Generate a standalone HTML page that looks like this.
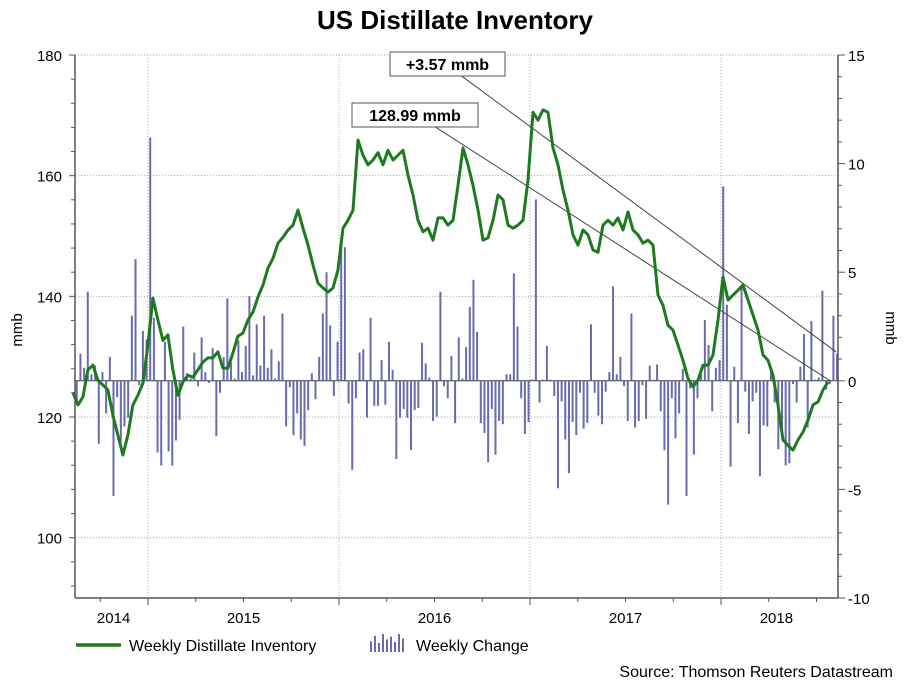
<!DOCTYPE html>
<html><head><meta charset="utf-8"><style>
body{margin:0;background:#fff;}
svg{display:block;font-family:"Liberation Sans",sans-serif;}
</style></head><body>
<svg id="chart" width="909" height="682" viewBox="0 0 909 682" xmlns="http://www.w3.org/2000/svg">
<text x="455" y="29" text-anchor="middle" font-size="26" font-weight="bold" fill="#000">US Distillate Inventory</text>
<g id="grid"></g>
<g id="bars"></g>
<g id="trend"></g>
<g id="line"></g>
<g id="axes"></g>
<text x="22" y="330" text-anchor="middle" font-size="15" transform="rotate(-90 22 330)">mmb</text>
<text x="886" y="328" text-anchor="middle" font-size="15" transform="rotate(90 886 328)">mmb</text>
<g>
<g>
<line x1="76" y1="645" x2="121" y2="645" stroke="#1e7a1e" stroke-width="3.5"/>
<text x="129" y="651" font-size="16">Weekly Distillate Inventory</text></g>
<g id="legbars"></g>
<text x="416" y="651" font-size="16">Weekly Change</text>
</g>
<text x="893" y="677" text-anchor="end" font-size="16">Source: Thomson Reuters Datastream</text>
</svg>
<script>
// Left axis (inventory, mmb)
const leftTicks = [100, 120, 140, 160, 180];
// Right axis (weekly change, mmb)
const rightTicks = [-10, -5, 0, 5, 10, 15];
const yearLabels = ["2014", "2015", "2016", "2017", "2018"];
const yearLabelPos = [2014.82, 2015.5, 2016.5, 2017.5, 2018.29];
const yearBounds = [2015, 2016, 2017, 2018];
// Inventory series (mmb), sampled about every 1.36 weeks from mid-Aug 2014
const lineStart = 2014.607;
const lineStep = 0.02618;
const inventory = [124.1,122.0,123.3,127.8,128.6,126.1,125.3,124.5,120.3,117.0,113.7,117.0,122.0,123.6,125.6,131.9,139.7,136.1,132.7,133.6,127.8,123.6,125.8,126.9,126.6,127.8,129.1,129.8,129.8,130.8,128.1,128.1,130.6,133.4,133.9,136.1,137.4,139.9,141.9,144.7,146.3,148.8,149.8,151.0,151.8,154.3,151.3,148.5,145.2,142.2,141.4,140.7,141.4,144.4,151.3,152.6,154.3,165.9,163.4,161.8,162.6,163.8,161.8,164.2,162.6,163.4,164.2,160.1,156.8,152.6,150.7,151.3,149.3,153.0,153.0,151.8,152.6,158.4,164.6,161.8,158.4,154.3,149.3,149.7,152.6,156.8,156.0,151.8,151.3,151.8,152.6,159.3,170.5,169.2,170.9,170.5,164.6,161.8,157.6,154.3,150.2,148.5,151.0,150.2,147.7,147.3,151.8,152.6,151.8,153.0,151.0,154.0,151.0,150.2,148.8,149.3,148.5,140.2,138.5,135.2,134.4,131.9,129.4,126.4,125.0,126.1,128.6,128.6,130.3,136.1,143.2,139.4,140.2,141.0,141.9,139.4,136.9,134.4,130.3,129.4,126.9,122.0,116.2,115.3,114.5,116.2,117.5,119.5,122.0,122.5,124.5,125.8];
// Weekly change (mmb)
const barStart = 2014.627;
const barStep = 1/52;
const weeklyChange = [-1.0,1.25,0.6,4.1,0.3,0.7,-2.9,0.4,-1.5,1.1,-5.3,-0.75,-2.8,-2.1,-1.7,3.0,5.6,-0.2,2.3,1.9,11.2,2.9,-3.3,-3.9,1.8,-3.25,-3.9,-2.75,-1.8,2.5,0.35,0.1,1.3,-0.25,2.0,0.4,-0.1,1.5,-2.55,-0.55,1.1,3.8,0.85,0.1,1.85,0.4,1.6,3.9,0.25,2.6,0.7,3.0,0.6,1.45,
0.1,0.9,3.1,-2.1,-0.3,-2.5,-1.5,-2.7,-3.0,-1.35,0.35,-0.85,1.1,3.1,5.0,2.55,-0.7,1.8,6.3,6.15,-1.05,-4.1,-0.8,1.3,1.45,-1.7,2.9,-1.15,-1.15,0.95,-1.1,1.8,0.5,-3.6,-1.7,-1.3,-1.7,-3.2,-1.35,-1.25,1.75,0.8,0.15,-1.85,-1.65,4.1,-0.25,-0.8,1.15,-1.95,2.0,0.1,1.55,3.4,
4.65,2.25,-1.95,-2.4,-3.75,-1.3,-3.4,-1.85,-2.0,0.3,0.3,4.95,2.5,-0.8,-2.45,-1.9,0.05,8.35,-1.0,0.05,1.6,0.05,-0.7,-4.95,-0.95,-2.7,-4.25,-1.9,-2.5,-0.55,-2.2,-1.95,2.6,-0.55,-1.6,-2.0,-0.5,0.4,4.35,0.3,1.1,-0.25,-1.85,3.1,-2.15,-1.85,-0.2,-1.75,0.7,0.05,0.75,-1.4,-3.2,
-5.7,-0.8,-2.65,-1.5,0.55,-5.3,-0.35,-3.4,-0.8,0.3,2.8,1.65,-1.4,0.6,0.95,8.95,3.5,-3.95,0.65,-1.95,4.35,-0.5,-2.45,-0.95,-0.55,-4.4,-2.05,-2.1,0.55,-1.0,-3.15,-2.65,-3.9,-3.8,-0.15,-1.0,0.65,2.15,-2.15,2.75,0.05,0.15,4.15,-0.4,-0.15,3.0,1.25];
// Trend annotations: [year, value on left axis]
const trendStart = [[2016.634, 176.7], [2016.503, 168.1]];
const trendEnd = [[2018.602, 130.8], [2018.571, 126.0]];
const trendLabels = ["+3.57 mmb", "128.99 mmb"];

const X0=75, X1=838, Y0=55, Y1=598;
const xS = d => 148 + (d - 2015) * 191;
const yL = v => Y0 + (180 - v) * (Y1 - Y0) / 90;
const yR = v => Y0 + (15 - v) * (Y1 - Y0) / 25;
const NS="http://www.w3.org/2000/svg";
function mk(tag, attrs, parent){const e=document.createElementNS(NS,tag);for(const k in attrs)e.setAttribute(k,attrs[k]);parent.appendChild(e);return e;}
const grid=document.getElementById('grid'), axes=document.getElementById('axes');
leftTicks.forEach(v=>{
  const g=mk('line',{x1:X0,x2:X1,y1:yL(v),y2:yL(v),stroke:'#aaa','stroke-width':1,'stroke-dasharray':'1,2'},grid);
  
  
  const t=mk('text',{x:62,y:yL(v)+6,'text-anchor':'end','font-size':15},axes);
  t.textContent=v;
  
  
});
for(let v=92; v<180; v+=4){ if(v%20===0) continue; mk('line',{x1:X0-4,x2:X0,y1:yL(v),y2:yL(v),stroke:'#555'},axes); }
leftTicks.forEach(v=>mk('line',{x1:X0-6,x2:X0,y1:yL(v),y2:yL(v),stroke:'#555'},axes));
rightTicks.forEach(v=>{
  const t=mk('text',{x:848,y:yR(v)+6,'font-size':15},axes);
  t.textContent=v;
  
  
});
for(let v=-10; v<=15; v++){ mk('line',{x1:X1,x2:X1+(v%5===0?7:4),y1:yR(v),y2:yR(v),stroke:'#555'},axes); }
yearBounds.forEach(d=>{
  const g=mk('line',{x1:xS(d),x2:xS(d),y1:Y0,y2:Y1,stroke:'#aaa','stroke-width':1,'stroke-dasharray':'1,2'},grid);
  
  
});
for(let d=2014.75; d<2018.7; d+=0.25){ const x=xS(d); if(x<X0||x>X1) continue; const maj=Math.abs(d-Math.round(d))<0.01; mk('line',{x1:x,x2:x,y1:Y1,y2:Y1+(maj?7:4),stroke:'#555'},axes);}
yearLabels.forEach((l,i)=>{
  const t=mk('text',{x:xS(yearLabelPos[i]),y:623,'text-anchor':'middle','font-size':15},axes);
  t.textContent=l;
  
  
});
mk('line',{x1:X0,x2:X0,y1:Y0,y2:Y1,stroke:'#555','stroke-width':1.5},axes);
mk('line',{x1:X1,x2:X1,y1:Y0,y2:Y1,stroke:'#555','stroke-width':1.5},axes);
mk('line',{x1:X0,x2:X1,y1:Y1,y2:Y1,stroke:'#555','stroke-width':1.5},axes);
// bars
const bars=document.getElementById('bars');
mk('line',{x1:X0,x2:X1,y1:yR(0),y2:yR(0),stroke:'#333','stroke-width':1},bars);
weeklyChange.forEach((v,i)=>{
  const x=xS(barStart+i*barStep), y0=yR(0), y=yR(v);
  const r=mk('rect',{x:x-1,y:Math.min(y,y0),width:2,height:Math.max(Math.abs(y-y0),0.5),fill:'#6a6aae'},bars);
  
  
});
// legend bars
const lb=document.getElementById('legbars');
[0.6,0.9,0.5,1,0.7,0.85,0.55,1,0.75].forEach((h,i)=>mk('rect',{x:370+i*4,y:652-18*h,width:2,height:18*h,fill:'#6a6aae'},lb));
// trend lines
const tr=document.getElementById('trend');
trendStart.forEach((s,i)=>{
  const e=trendEnd[i];
  const l=mk('line',{x1:xS(s[0]),y1:yL(s[1]),x2:xS(e[0]),y2:yL(e[1]),stroke:'#444','stroke-width':1},tr);
  
  
});
const boxes=[[390,52,115,24],[352,103,126,24]];
trendLabels.forEach((t,i)=>{
  const b=boxes[i];
  const r=mk('rect',{x:b[0],y:b[1],width:b[2],height:b[3],fill:'#fff',stroke:'#555'},tr);
  
  
  const tx=mk('text',{x:b[0]+b[2]/2,y:b[1]+18,'text-anchor':'middle','font-size':16,'font-weight':'bold'},tr);
  tx.textContent=t;
  
  
});
// line
const pts=inventory.map((v,i)=>xS(lineStart+i*lineStep).toFixed(1)+','+yL(v).toFixed(1)).join(' ');
const pl=mk('polyline',{points:pts,fill:'none',stroke:'#1e7a1e','stroke-width':3,'stroke-linejoin':'round'},document.getElementById('line'));


</script>
</body></html>
